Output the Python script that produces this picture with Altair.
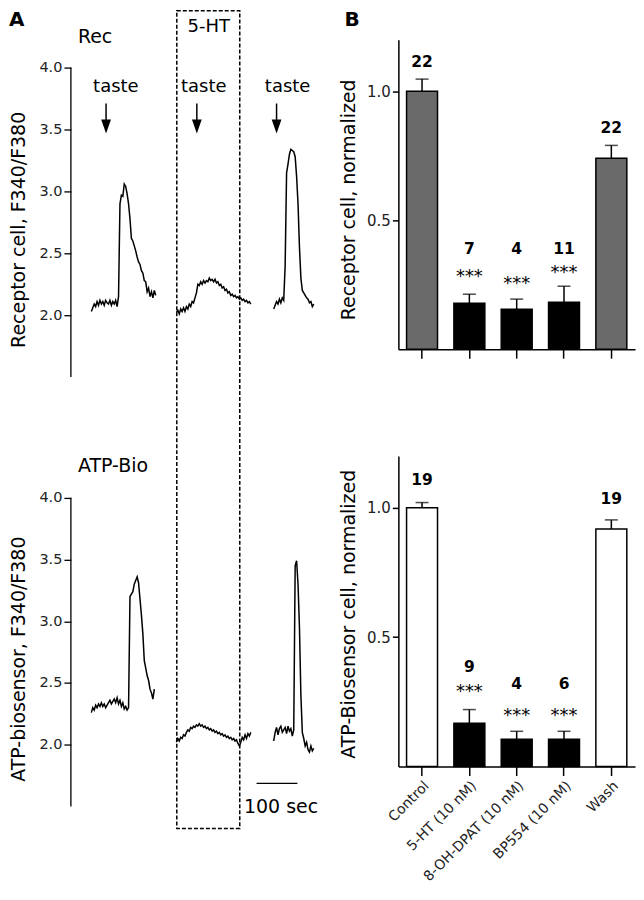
import altair as alt
import pandas as pd

FONT = "DejaVu Sans"

# ---------------- Panel A: Fura-2 ratio traces (F340/F380), one sample every 3.5 s ----------------
SAMPLE_S = 3.5

rec_control_start = 50
rec_control = [2.03, 2.06, 2.09, 2.07, 2.11, 2.08, 2.12, 2.09, 2.11, 2.08,
               2.12, 2.10, 2.09, 2.12, 2.08, 2.11, 2.09, 2.12, 2.07, 2.15,
               2.90, 2.97, 2.96, 3.06, 3.04, 2.98, 2.90, 2.78, 2.62, 2.60,
               2.56, 2.52, 2.47, 2.43, 2.41, 2.36, 2.34, 2.28, 2.27, 2.19,
               2.22, 2.15, 2.19, 2.14, 2.20, 2.16]
rec_5ht_start = 258
rec_5ht = [2.02, 2.04, 2.01, 2.05, 2.03, 2.06, 2.03, 2.07, 2.05, 2.09,
           2.07, 2.11, 2.10, 2.14, 2.18, 2.25, 2.24, 2.27, 2.25, 2.28,
           2.26, 2.28, 2.27, 2.30, 2.28, 2.29, 2.27, 2.29, 2.26, 2.27,
           2.24, 2.25, 2.22, 2.23, 2.20, 2.21, 2.18, 2.19, 2.16, 2.17,
           2.15, 2.16, 2.14, 2.15, 2.13, 2.14, 2.12, 2.13, 2.11, 2.12,
           2.10, 2.11, 2.09]
rec_wash_start = 496
rec_wash = [2.05, 2.08, 2.11, 2.09, 2.13, 2.10, 2.14, 2.12, 2.40, 3.15,
            3.22, 3.30, 3.34, 3.33, 3.32, 3.28, 3.12, 2.90, 2.55, 2.30,
            2.20, 2.18, 2.16, 2.14, 2.13, 2.10, 2.11, 2.07, 2.09]

atp_control_start = 50
atp_control = [2.26, 2.30, 2.28, 2.32, 2.30, 2.33, 2.31, 2.34, 2.31, 2.33,
               2.30, 2.32, 2.34, 2.36, 2.33, 2.35, 2.37, 2.34, 2.38, 2.33,
               2.36, 2.31, 2.34, 2.29, 2.31, 2.28, 2.30, 3.20, 3.22, 3.24,
               3.30, 3.33, 3.36, 3.31, 3.18, 3.05, 2.90, 2.68, 2.62, 2.56,
               2.52, 2.45, 2.42, 2.37, 2.45]
atp_5ht_start = 258
atp_5ht = [2.02, 2.05, 2.03, 2.06, 2.05, 2.08, 2.07, 2.10, 2.12, 2.11,
           2.14, 2.13, 2.15, 2.14, 2.16, 2.15, 2.17, 2.15, 2.16, 2.14,
           2.15, 2.13, 2.14, 2.12, 2.13, 2.11, 2.12, 2.10, 2.11, 2.09,
           2.10, 2.08, 2.09, 2.07, 2.08, 2.06, 2.07, 2.05, 2.06, 2.04,
           2.05, 2.03, 2.04, 2.01, 1.99, 2.02, 2.06, 2.04, 2.08, 2.05,
           2.09, 2.07, 2.10]
atp_wash_start = 496
atp_wash = [2.03, 2.10, 2.14, 2.08, 2.13, 2.15, 2.10, 2.12, 2.14, 2.09,
            2.15, 2.11, 2.13, 2.07, 2.12, 3.45, 3.49, 3.30, 2.95, 2.40,
            2.10, 2.05, 1.99, 2.02, 1.96, 1.94, 1.99, 1.95, 1.97]

taste_arrow_times = [86, 308, 503]
taste_label_times = [110, 325, 530]
ht_window = [259, 413]          # 5-HT application (s)
scale_bar = [454, 554]          # 100 s

# ---------------- Panel B: normalized responses ----------------
conditions = ["Control", "5-HT (10 nM)", "8-OH-DPAT (10 nM)", "BP554 (10 nM)", "Wash"]

rec_mean = [1.0, 0.178, 0.155, 0.182, 0.74]
rec_sem = [0.047, 0.035, 0.039, 0.062, 0.05]
rec_n = ["22", "7", "4", "11", "22"]
rec_n_y = [1.112, 0.388, 0.388, 0.388, 0.857]
rec_stars = ["", "***", "***", "***", ""]
rec_star_y = [0, 0.302, 0.275, 0.318, 0]
rec_fill = ["#6a6a6a", "black", "black", "black", "#6a6a6a"]

atp_mean = [1.0, 0.167, 0.105, 0.105, 0.918]
atp_sem = [0.02, 0.053, 0.031, 0.031, 0.035]
atp_n = ["19", "9", "4", "6", "19"]
atp_n_y = [1.109, 0.384, 0.318, 0.318, 1.035]
atp_stars = ["", "***", "***", "***", ""]
atp_star_y = [0, 0.31, 0.217, 0.217, 0]
atp_fill = ["white", "black", "black", "black", "white"]

# ---------------- helpers ----------------
A_W = 258
xA = alt.Scale(domain=[0, 630], nice=False, zero=False)


def XA(field):
    return alt.X(field, type="quantitative", scale=xA, axis=None)


def trace_df(values, start, seg):
    return pd.DataFrame({"t": [start + i * SAMPLE_S for i in range(len(values))],
                         "ratio": values, "seg": seg})


def label(text, x, y, size, weight="normal", align="left", baseline="middle"):
    return alt.Chart(pd.DataFrame({"txt": [text]})).mark_text(
        font=FONT, fontSize=size, fontWeight=weight, align=align, baseline=baseline, color="black"
    ).encode(x=alt.value(x), y=alt.value(y), text="txt:N")


def trace_panel(segments, ymax, height, title, title_y):
    df = pd.concat([trace_df(v, s, i) for i, (v, s) in enumerate(segments)])
    yS = alt.Scale(domain=[1.5, ymax], nice=False, zero=False)
    yaxis = alt.Axis(values=[2.0, 2.5, 3.0, 3.5, 4.0], format=".1f", domain=False, grid=False,
                     tickSize=7, tickWidth=1.3, tickColor="black", labelPadding=2,
                     labelFontSize=14.5, labelFont=FONT, labelColor="#222",
                     title=title, titleFont=FONT, titleFontSize=19, titleFontWeight="normal",
                     titleColor="black", titleX=-52, titleY=title_y, titleBaseline="middle")

    def Y(field):
        return alt.Y(field, type="quantitative", scale=yS, axis=yaxis)

    lines = alt.Chart(df).mark_line(color="black", strokeWidth=1.5).encode(
        x=XA("t"), y=Y("ratio"), detail="seg:N")
    axis_line = alt.Chart(pd.DataFrame({"lo": [1.5], "hi": [4.0]})).mark_rule(
        color="black", strokeWidth=1.3).encode(x=alt.value(0), y=Y("lo"), y2=alt.Y2("hi"))
    return [lines, axis_line], Y


# ---- A top: receptor cell ----
A_TOP_MAX = 4.0 + 28 / 124
A_TOP_H = 338
a_top_layers, Yt = trace_panel(
    [(rec_control, rec_control_start), (rec_5ht, rec_5ht_start), (rec_wash, rec_wash_start)],
    A_TOP_MAX, A_TOP_H, "Receptor cell, F340/F380", 190)

taste_lbl = alt.Chart(pd.DataFrame({"t": taste_label_times, "y": [3.847] * 3, "txt": ["taste"] * 3})).mark_text(
    font=FONT, fontSize=18, baseline="middle", color="black").encode(x=XA("t"), y=Yt("y"), text="txt:N")
arrow_df = pd.DataFrame({"t": taste_arrow_times, "y0": [3.71] * 3, "y1": [3.56] * 3, "yh": [3.524] * 3})
arrow_shaft = alt.Chart(arrow_df).mark_rule(color="black", strokeWidth=1.5).encode(
    x=XA("t"), y=Yt("y0"), y2=alt.Y2("y1"))
arrow_head = alt.Chart(arrow_df).mark_point(
    shape="M-0.7,-1L0.7,-1L0,1Z", filled=True, size=196, color="black", opacity=1).encode(
    x=XA("t"), y=Yt("yh"))
ht_box = alt.Chart(pd.DataFrame({"t0": [ht_window[0]], "t1": [ht_window[1]]})).mark_rect(
    fillOpacity=0, stroke="black", strokeWidth=1.5, strokeDash=[4, 2]).encode(
    x=XA("t0"), x2=alt.X2("t1"), y=alt.value(-29), y2=alt.value(790))

A_top = alt.layer(
    *a_top_layers, taste_lbl, arrow_shaft, arrow_head, ht_box,
    label("A", -62, -30, 20, "bold", baseline="top"),
    label("Rec", 7, -3, 19),
    label("5-HT", 138, -13, 18, align="center"),
).properties(width=A_W, height=A_TOP_H)

# ---- A bottom: ATP biosensor ----
A_BOT_MAX = 4.0 + 42 / 124
A_BOT_H = 351
a_bot_layers, Yb = trace_panel(
    [(atp_control, atp_control_start), (atp_5ht, atp_5ht_start), (atp_wash, atp_wash_start)],
    A_BOT_MAX, A_BOT_H, "ATP-biosensor, F340/F380", 203)

sb_df = pd.DataFrame({"t0": [scale_bar[0]], "t1": [scale_bar[1]], "y": [1.686],
                      "tm": [514], "ty": [1.492], "txt": ["100 sec"]})
sbar = alt.Chart(sb_df).mark_rule(color="black", strokeWidth=1.3).encode(
    x=XA("t0"), x2=alt.X2("t1"), y=Yb("y"))
sbar_lbl = alt.Chart(sb_df).mark_text(font=FONT, fontSize=19, baseline="middle", color="black").encode(
    x=XA("tm"), y=Yb("ty"), text="txt:N")

A_bot = alt.layer(
    *a_bot_layers, sbar, sbar_lbl,
    label("ATP-Bio", 7, 10, 19),
).properties(width=A_W, height=A_BOT_H)


# ---- B panels ----
B_W = 237


def bar_panel(means, sems, ns, n_y, stars, star_y, fills, title, title_y, show_labels, height, extra=()):
    df = pd.DataFrame({"cond": conditions, "mean": means,
                       "top": [m + s for m, s in zip(means, sems)],
                       "n": ns, "ny": n_y, "fill": fills})
    sdf = pd.DataFrame({"cond": [c for c, s in zip(conditions, stars) if s],
                        "stars": [s for s in stars if s],
                        "sy": [y for y, s in zip(star_y, stars) if s]})
    xaxis = alt.Axis(title=None, labels=show_labels, labelAngle=-45, labelAlign="right",
                     labelBaseline="top", labelFontSize=14, labelFont=FONT, labelColor="#222",
                     labelPadding=3, tickSize=9, tickWidth=1.5, tickColor="black",
                     domainWidth=1.5, domainColor="black", grid=False)
    yS = alt.Scale(domain=[0, 1.2], nice=False)
    yaxis = alt.Axis(values=[0.5, 1.0], format=".1f", grid=False, tickSize=6, tickWidth=1.5,
                     tickColor="black", domainWidth=1.5, domainColor="black", labelPadding=2,
                     labelFontSize=15, labelFont=FONT, labelColor="#222",
                     title=title, titleFont=FONT, titleFontSize=19, titleFontWeight="normal",
                     titleColor="black", titleX=-50, titleY=title_y, titleBaseline="middle")
    xS = alt.Scale(paddingInner=0.346, paddingOuter=0.173)

    def X():
        return alt.X("cond:N", sort=conditions, scale=xS, axis=xaxis)

    def Y(field):
        return alt.Y(field, type="quantitative", scale=yS, axis=yaxis)

    bars = alt.Chart(df).mark_bar(stroke="black", strokeWidth=1.5).encode(
        x=X(), y=Y("mean"), fill=alt.Fill("fill:N", scale=None))
    err = alt.Chart(df).mark_rule(color="black", strokeWidth=1.5).encode(
        x=X(), y=Y("mean"), y2=alt.Y2("top"))
    cap = alt.Chart(df).mark_tick(color="black", thickness=1.5, size=13, orient="horizontal").encode(
        x=X(), y=Y("top"))
    ntext = alt.Chart(df).mark_text(font=FONT, fontSize=15.5, fontWeight="bold", baseline="middle",
                                    color="black").encode(x=X(), y=Y("ny"), text="n:N")
    stext = alt.Chart(sdf).mark_text(font=FONT, fontSize=18, baseline="alphabetic", dy=11,
                                     color="black").encode(x=X(), y=Y("sy"), text="stars:N")
    return alt.layer(bars, err, cap, ntext, stext, *extra).properties(width=B_W, height=height)


B_top = bar_panel(rec_mean, rec_sem, rec_n, rec_n_y, rec_stars, rec_star_y, rec_fill,
                  "Receptor cell, normalized", 160, False, 310,
                  extra=(label("B", -54, -30, 20, "bold", baseline="top"),))
B_bot = bar_panel(atp_mean, atp_sem, atp_n, atp_n_y, atp_stars, atp_star_y, atp_fill,
                  "ATP-Biosensor cell, normalized", 158, True, 311)

chart = alt.concat(
    A_top, B_top, A_bot, B_bot,
    columns=2, spacing={"row": 79, "column": 70}, bounds="flush", align="each",
    padding=0,
).configure_view(stroke="transparent")

chart.save("out.html", embed_options={"renderer": "svg", "actions": False})
